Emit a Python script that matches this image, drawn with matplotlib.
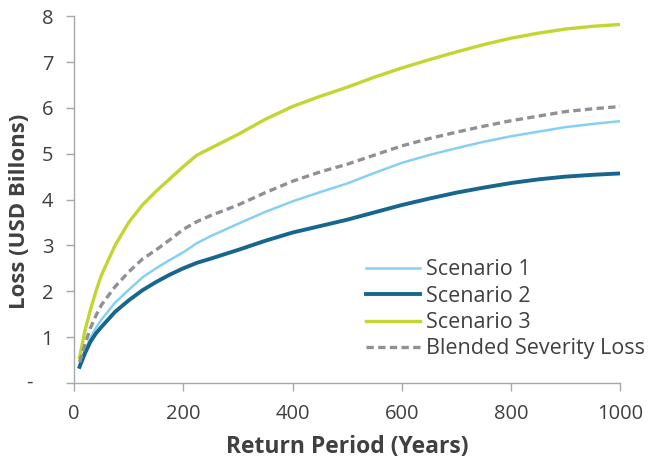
import matplotlib
matplotlib.use("Agg")
import matplotlib.pyplot as plt

plt.rcParams['font.family'] = ['Open Sans', 'DejaVu Sans']

return_period = [10, 20, 30, 40, 50, 75, 100, 125, 150, 175, 200, 225, 250, 300, 350, 400, 450,
                 500, 550, 600, 650, 700, 750, 800, 850, 900, 950, 1000]
scenario1 = [0.40, 0.72, 0.98, 1.20, 1.38, 1.75, 2.03, 2.30, 2.50, 2.68, 2.85, 3.05, 3.20, 3.47, 3.73, 3.96, 4.16,
             4.35, 4.58, 4.80, 4.97, 5.12, 5.26, 5.38, 5.48, 5.58, 5.65, 5.71]
scenario2 = [0.35, 0.65, 0.90, 1.08, 1.22, 1.55, 1.80, 2.02, 2.20, 2.36, 2.50, 2.62, 2.71, 2.90, 3.10, 3.28, 3.42,
             3.56, 3.72, 3.88, 4.02, 4.15, 4.26, 4.36, 4.44, 4.50, 4.54, 4.57]
scenario3 = [0.55, 1.15, 1.60, 2.00, 2.35, 3.00, 3.50, 3.88, 4.18, 4.45, 4.72, 4.97, 5.12, 5.42, 5.75, 6.03, 6.25,
             6.45, 6.67, 6.87, 7.05, 7.22, 7.38, 7.52, 7.63, 7.72, 7.78, 7.82]
blended = [0.45, 0.85, 1.20, 1.47, 1.70, 2.10, 2.42, 2.70, 2.90, 3.12, 3.35, 3.52, 3.65, 3.88, 4.15, 4.40, 4.60,
           4.77, 4.97, 5.17, 5.33, 5.47, 5.60, 5.72, 5.82, 5.92, 5.98, 6.03]

x_ticks = [0, 200, 400, 600, 800, 1000]
y_ticks = [0, 1, 2, 3, 4, 5, 6, 7, 8]
y_tick_labels = ['', '1', '2', '3', '4', '5', '6', '7', '8']
zero_label = '-'

text_color = '#404040'
spine_color = '#a6a8ab'

fig = plt.figure(figsize=(6.5, 4.63), dpi=100)
ax = fig.add_axes([0.114, 0.173, 0.84, 0.792])

ax.plot(return_period, scenario1, color='#86d0f2', lw=1.8, label='Scenario 1')
ax.plot(return_period, scenario2, color='#17668f', lw=2.8, label='Scenario 2')
ax.plot(return_period, scenario3, color='#c3d530', lw=2.4, label='Scenario 3')
ax.plot(return_period, blended, color='#8e9297', lw=2.4, ls=(0, (2.2, 1.3)), label='Blended Severity Loss')

ax.set_xlim(0, 1000)
ax.set_ylim(0, 8)
ax.set_xticks(x_ticks)
ax.set_yticks(y_ticks)
ax.set_yticklabels(y_tick_labels)

# accounting-style dash for zero
ax.text(-0.082, 0, zero_label, transform=ax.get_yaxis_transform(), ha='center', va='center',
        fontsize=14.5, color=text_color)

for s in ['top', 'right']:
    ax.spines[s].set_visible(False)
for s in ['left', 'bottom']:
    ax.spines[s].set_color(spine_color)
    ax.spines[s].set_linewidth(1.0)

ax.tick_params(axis='both', colors=spine_color, labelcolor=text_color, labelsize=14.5, length=6, width=1.0)
ax.tick_params(axis='x', pad=9)
ax.tick_params(axis='y', pad=9)

ax.set_xlabel('Return Period (Years)', fontsize=16.5, fontweight='bold', color=text_color, labelpad=8)
ax.set_ylabel('Loss (USD Billons)', fontsize=16, fontweight='bold', color=text_color, va='center')
ax.yaxis.set_label_coords(-0.1, 0.467)

leg = ax.legend(loc='upper left', bbox_to_anchor=(0.563, 0.44), bbox_transform=fig.transFigure,
                frameon=False, fontsize=15.5, handlelength=2.5, handletextpad=0.3,
                labelspacing=0.25, borderaxespad=0, borderpad=0)
for t in leg.get_texts():
    t.set_color(text_color)

fig.savefig('out.png', dpi=100)
